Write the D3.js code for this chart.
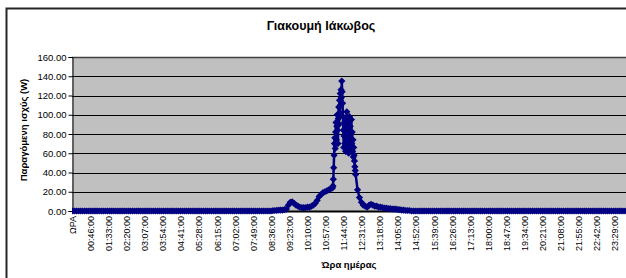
<!DOCTYPE html>
<meta charset="utf-8" />
<style>
    body { margin: 0; background: #fff; }
    text { font-family: Arial, "Liberation Sans", sans-serif; fill: #000; }
</style>
<body></body>
<script src="https://cdn.jsdelivr.net/npm/d3@7"></script>
<script>

    var chartTitle = "Γιακουμή Ιάκωβος";
    var yTitle = "Παραγόμενη ισχύς  (W)";
    var xTitle = "Ώρα  ημέρας";

    // category 0 is the header cell, then one category per minute
    var categoryCount = 1441;
    var labelStep = 47;
    var xLabels = ["ΩΡΑ", "00:46:00", "01:33:00", "02:20:00", "03:07:00", "03:54:00", "04:41:00",
        "05:28:00", "06:15:00", "07:02:00", "07:49:00", "08:36:00", "09:23:00", "10:10:00",
        "10:57:00", "11:44:00", "12:31:00", "13:18:00", "14:05:00", "14:52:00", "15:39:00",
        "16:26:00", "17:13:00", "18:00:00", "18:47:00", "19:34:00", "20:21:00", "21:08:00",
        "21:55:00", "22:42:00", "23:29:00"];
    var yTicks = [0, 20, 40, 60, 80, 100, 120, 140, 160];

    // power readings (W) every 5 minutes, one row per hour 00:00 .. 23:55
    var power = [
        0, 0, 0, 0, 0, 0, 0, 0, 0, 0, 0, 0,            // 00
        0, 0, 0, 0, 0, 0, 0, 0, 0, 0, 0, 0,            // 01
        0, 0, 0, 0, 0, 0, 0, 0, 0, 0, 0, 0,            // 02
        0, 0, 0, 0, 0, 0, 0, 0, 0, 0, 0, 0,            // 03
        0, 0, 0, 0, 0, 0, 0, 0, 0, 0, 0, 0,            // 04
        0, 0, 0, 0, 0, 0, 0, 0, 0, 0, 0, 0,            // 05
        0, 0, 0, 0, 0, 0, 0, 0, 0, 0, 0, 0,            // 06
        0, 0, 0, 0, 0, 0, 0, 0, 0, 0, 0, 0,            // 07
        0, 0, 0, 0, 0, 0, 0, 0, 0.3, 0.5, 0.6, 0.8,    // 08
        1, 1, 1.5, 2, 6, 9, 9.5, 8, 6, 5, 4, 3.5,      // 09
        3.5, 3.5, 4, 4, 5, 6, 8, 11, 15, 17, 19, 20,   // 10
        21, 22, 23, 30, 48, 77, 96, 118, 135, 88, 103, 72, // 11
        86, 65, 56, 38, 22, 14, 9, 6, 5, 4, 6, 7,      // 12
        6, 5, 5, 4, 4, 3.5, 3, 3, 2.5, 2.5, 2, 2,      // 13
        2, 1.5, 1.5, 1, 1, 0.5, 0.5, 0.5, 0, 0, 0, 0,  // 14
        0, 0, 0, 0, 0, 0, 0, 0, 0, 0, 0, 0,            // 15
        0, 0, 0, 0, 0, 0, 0, 0, 0, 0, 0, 0,            // 16
        0, 0, 0, 0, 0, 0, 0, 0, 0, 0, 0, 0,            // 17
        0, 0, 0, 0, 0, 0, 0, 0, 0, 0, 0, 0,            // 18
        0, 0, 0, 0, 0, 0, 0, 0, 0, 0, 0, 0,            // 19
        0, 0, 0, 0, 0, 0, 0, 0, 0, 0, 0, 0,            // 20
        0, 0, 0, 0, 0, 0, 0, 0, 0, 0, 0, 0,            // 21
        0, 0, 0, 0, 0, 0, 0, 0, 0, 0, 0, 0,            // 22
        0, 0, 0, 0, 0, 0, 0, 0, 0, 0, 0, 0             // 23
    ];

    // minute-by-minute readings around the noon peak, 11:15 .. 12:14
    var peakStartMinute = 675;
    var peakPower = [
        24, 26, 33, 45, 58, 70, 76, 65, 82, 92,        // 11:15
        74, 88, 100, 84, 70, 96, 108, 90, 115, 102,    // 11:25
        122, 110, 126, 118, 135, 124, 112, 98, 84, 66, // 11:35
        78, 92, 70, 86, 62, 88, 96, 103, 80, 68,       // 11:45
        90, 74, 60, 84, 98, 76, 88, 64, 80, 95,        // 11:55
        70, 82, 62, 74, 56, 66, 58, 52, 46, 42         // 12:05
    ];

    var peakEndMinute = peakStartMinute + peakPower.length - 1;
    var points = [];
    power.forEach(function (v, j) {
        var m = 5 * j;
        if (m < peakStartMinute || m > peakEndMinute) points.push({ idx: m + 1, v: v });
    });
    peakPower.forEach(function (v, i) {
        points.push({ idx: peakStartMinute + i + 1, v: v });
    });
    points.sort(function (a, b) { return a.idx - b.idx; });

    var svgWidth = 626, svgHeight = 278;
    var plot = { left: 72, top: 57, right: 627, bottom: 211 };

    var svg = d3.select("body").append("svg")
        .attr("width", svgWidth)
        .attr("height", svgHeight);

    // chart frame
    svg.append("rect")
        .attr("x", 6.5).attr("y", 8.5)
        .attr("width", 700).attr("height", 300)
        .attr("fill", "#fff")
        .attr("stroke", "#262626")
        .attr("stroke-width", 2);

    var x = d3.scaleLinear()
        .domain([0, categoryCount])
        .range([plot.left + 0.5, plot.left + 0.5 + categoryCount * 0.3847]);

    var y = d3.scaleLinear()
        .domain([0, 160])
        .range([plot.bottom, plot.top]);

    svg.append("defs").append("clipPath").attr("id", "plotclip")
        .append("rect")
        .attr("x", plot.left).attr("y", plot.top - 5)
        .attr("width", svgWidth - plot.left).attr("height", plot.bottom - plot.top + 10);

    // plot background
    svg.append("rect")
        .attr("x", plot.left).attr("y", plot.top)
        .attr("width", plot.right - plot.left).attr("height", plot.bottom - plot.top)
        .attr("fill", "#c0c0c0");

    // gridlines
    svg.append("g").selectAll("line")
        .data(yTicks.filter(function (d) { return d > 0; }))
        .enter().append("line")
        .attr("x1", plot.left).attr("x2", plot.right)
        .attr("y1", function (d) { return Math.round(y(d)) + 0.5; })
        .attr("y2", function (d) { return Math.round(y(d)) + 0.5; })
        .attr("stroke", function (d) { return d == 160 ? "#404040" : "#000"; })
        .attr("stroke-width", function (d) { return d == 160 ? 1.5 : 1; });

    // y axis
    var gy = svg.append("g")
        .attr("transform", "translate(" + (plot.left + 0.5) + ",0)")
        .call(d3.axisLeft(y).tickValues(yTicks).tickSize(4).tickPadding(2).tickFormat(d3.format(".2f")));
    gy.select(".domain").attr("stroke", "#000");
    gy.selectAll("text").style("font-size", "9.5px").style("font-family", "Arial, 'Liberation Sans', sans-serif");

    // category axis line
    svg.append("line")
        .attr("x1", plot.left).attr("x2", plot.right)
        .attr("y1", plot.bottom + 0.5).attr("y2", plot.bottom + 0.5)
        .attr("stroke", "#000").attr("stroke-width", 2);

    // x labels
    var gx = svg.append("g")
        .attr("transform", "translate(0," + (plot.bottom + 5) + ")")
        .call(d3.axisBottom(x)
            .tickValues(xLabels.map(function (d, i) { return i * labelStep; }))
            .tickSize(0)
            .tickFormat(function (d) { return xLabels[d / labelStep]; }));
    gx.select(".domain").remove();
    gx.selectAll("text")
        .attr("y", 0).attr("dy", "0.32em")
        .attr("transform", "rotate(-90)")
        .attr("text-anchor", "end")
        .style("font-size", "9px")
        .style("font-family", "Arial, 'Liberation Sans', sans-serif");

    // series
    var series = svg.append("g").attr("clip-path", "url(#plotclip)");
    var line = d3.line()
        .x(function (d) { return x(d.idx); })
        .y(function (d) { return y(d.v); });

    series.append("path")
        .datum(points)
        .attr("d", line)
        .attr("fill", "none")
        .attr("stroke", "#000080")
        .attr("stroke-width", 2.5);

    var diamond = d3.symbol().type(d3.symbolSquare).size(26);
    series.selectAll(".marker")
        .data(points)
        .enter().append("path")
        .attr("class", "marker")
        .attr("d", diamond)
        .attr("transform", function (d) { return "translate(" + x(d.idx) + "," + y(d.v) + ") rotate(45)"; })
        .attr("fill", "#000080");

    // titles
    svg.append("text")
        .attr("x", 321).attr("y", 30)
        .attr("text-anchor", "middle")
        .style("font-size", "12.5px").style("font-weight", "bold")
        .text(chartTitle);

    svg.append("text")
        .attr("transform", "translate(27,130) rotate(-90)")
        .attr("text-anchor", "middle")
        .style("font-size", "9.5px").style("font-weight", "bold")
        .text(yTitle);

    svg.append("text")
        .attr("x", 349).attr("y", 268)
        .attr("text-anchor", "middle")
        .style("font-size", "9.5px").style("font-weight", "bold")
        .text(xTitle);

</script>
